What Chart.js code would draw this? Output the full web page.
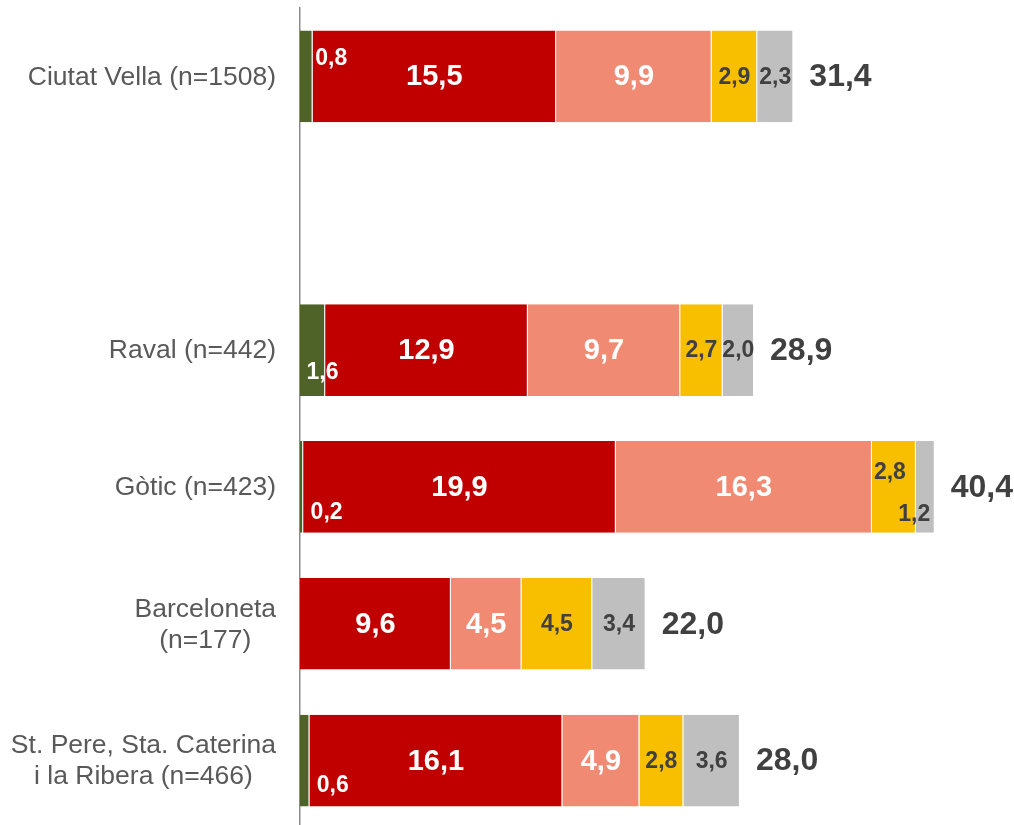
<!DOCTYPE html>
<html>
<head>
<meta charset="utf-8">
<script src="https://cdn.jsdelivr.net/npm/chart.js@4"></script>
<style>
  html, body { margin: 0; padding: 0; background: #fff; overflow: hidden; }
  #wrap { width: 1014px; height: 829px; }
</style>
</head>
<body>
<div id="wrap"><canvas id="chart"></canvas></div>
<script>
// categories (the empty slot keeps the gap under Ciutat Vella)
const categories = [
  ['Ciutat Vella (n=1508)'],
  [''],
  ['Raval (n=442)'],
  ['Gòtic (n=423)'],
  ['Barceloneta', '(n=177)'],
  ['St. Pere, Sta. Caterina', 'i la Ribera (n=466)']
];

// series values (%)
const seriesGreen  = [0.8, null, 1.6, 0.2, null, 0.6];
const seriesRed    = [15.5, null, 12.9, 19.9, 9.6, 16.1];
const seriesSalmon = [9.9, null, 9.7, 16.3, 4.5, 4.9];
const seriesYellow = [2.9, null, 2.7, 2.8, 4.5, 2.8];
const seriesGray   = [2.3, null, 2.0, 1.2, 3.4, 3.6];
const totals       = [31.4, null, 28.9, 40.4, 22.0, 28.0];

// small nudges for labels that sit off-centre in the original ("dataset:index")
const labelNudge = {
  '0:0': [25, -19],
  '0:2': [10, 22],
  '0:3': [25, 25],
  '0:5': [28, 24],
  '3:3': [-4, -15],
  '4:3': [-11, 27]
};

const FONT = '"Liberation Sans", Arial, sans-serif';
const fmt = v => v.toFixed(1).replace('.', ',');

// draws values inside segments, totals and category labels
const labelPlugin = {
  id: 'labelPlugin',
  afterDatasetsDraw(chart) {
    const ctx = chart.ctx;
    const xs = chart.scales.x;
    const ys = chart.scales.y;
    ctx.save();
    ctx.textBaseline = 'middle';

    // segment values
    ctx.textAlign = 'center';
    chart.data.datasets.forEach((ds, di) => {
      const meta = chart.getDatasetMeta(di);
      meta.data.forEach((bar, i) => {
        const v = ds.data[i];
        if (v == null) return;
        const nudge = labelNudge[di + ':' + i] || [0, 0];
        ctx.font = 'bold ' + ds.labelSize + 'px ' + FONT;
        ctx.fillStyle = ds.labelColor;
        ctx.fillText(fmt(v), (bar.x + bar.base) / 2 + nudge[0], bar.y + 1 + nudge[1]);
      });
    });

    // totals
    ctx.textAlign = 'left';
    ctx.font = 'bold 32px ' + FONT;
    ctx.fillStyle = '#404040';
    totals.forEach((t, i) => {
      if (t == null) return;
      ctx.fillText(fmt(t), xs.getPixelForValue(t) + 16, ys.getPixelForValue(i) + 1);
    });

    // category labels: block right-aligned, lines centred inside the block
    ctx.textAlign = 'center';
    ctx.font = '26.5px ' + FONT;
    ctx.fillStyle = '#595959';
    const lineH = 31;
    categories.forEach((lines, i) => {
      const widest = Math.max(...lines.map(l => ctx.measureText(l).width));
      const cx = chart.chartArea.left - 24 - widest / 2;
      const yc = ys.getPixelForValue(i);
      lines.forEach((l, k) => {
        ctx.fillText(l, cx, yc + 1 + (k - (lines.length - 1) / 2) * lineH);
      });
    });
    ctx.restore();
  }
};

const ctx = document.getElementById('chart').getContext('2d');
new Chart(ctx, {
  type: 'bar',
  data: {
    labels: categories,
    datasets: [
      { data: seriesGreen,  backgroundColor: '#4F6228', labelColor: '#ffffff', labelSize: 23 },
      { data: seriesRed,    backgroundColor: '#C00000', labelColor: '#ffffff', labelSize: 29 },
      { data: seriesSalmon, backgroundColor: '#F08A73', labelColor: '#ffffff', labelSize: 29 },
      { data: seriesYellow, backgroundColor: '#F7BF00', labelColor: '#404040', labelSize: 23 },
      { data: seriesGray,   backgroundColor: '#BFBFBF', labelColor: '#404040', labelSize: 23 }
    ]
  },
  options: {
    indexAxis: 'y',
    responsive: true,
    maintainAspectRatio: false,
    animation: false,
    datasets: {
      bar: {
        categoryPercentage: 1,
        barPercentage: 0.67,
        borderWidth: { top: 0, bottom: 0, left: 0, right: 1 },
        borderColor: 'rgba(255,255,255,0.55)',
        borderSkipped: false
      }
    },
    layout: { padding: { top: 8, bottom: 0, left: 0, right: 7 } },
    plugins: {
      legend: { display: false },
      tooltip: { enabled: false }
    },
    scales: {
      x: { stacked: true, display: false, min: 0, max: 45 },
      y: {
        stacked: true,
        grid: { display: false },
        border: { display: true, color: '#8c8c8c', width: 1.5 },
        ticks: { display: false },
        afterFit(scale) { scale.width = 300; }
      }
    }
  },
  plugins: [labelPlugin]
});
</script>
</body>
</html>
